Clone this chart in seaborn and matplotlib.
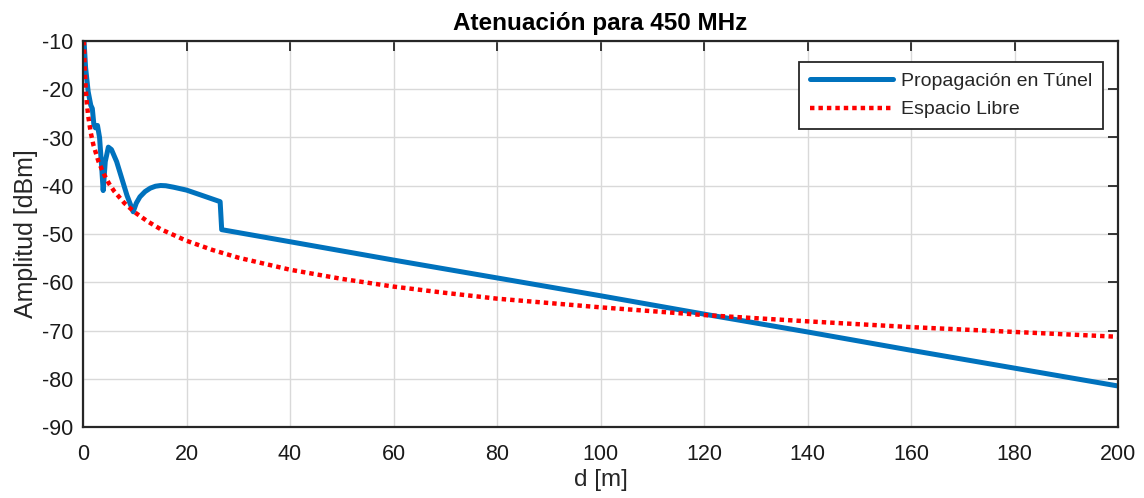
import matplotlib
matplotlib.use("Agg")
import matplotlib.pyplot as plt
import seaborn as sns
import pandas as pd

# Propagación en Túnel
tunnel_d = [0.2, 0.5, 1.0, 1.5, 1.8, 2.1, 2.4, 2.8, 3.2, 3.6, 3.9, 4.3, 4.9, 5.5, 6.5,
            7.5, 8.5, 9.7, 10.3, 11.0, 12.0, 13.0, 14.0, 15.0, 16.0, 17.5, 20.0, 23.0,
            26.5, 26.8, 40.0, 60.0, 80.0, 100.0, 120.0, 140.0, 160.0, 180.0, 200.0]
tunnel_db = [-10.0, -15.5, -20.5, -23.3, -24.0, -27.3, -28.0, -27.5, -30.0, -36.0, -41.0,
             -35.0, -32.0, -32.5, -35.0, -38.5, -42.0, -45.4, -43.6, -42.3, -41.2, -40.5,
             -40.1, -39.95, -40.0, -40.3, -40.9, -42.0, -43.3, -49.1, -51.6, -55.4, -59.1,
             -62.8, -66.6, -70.3, -74.1, -77.8, -81.5]

# Espacio Libre
free_d = [0.17, 0.3, 0.5, 0.75, 1, 1.5, 2, 3, 4, 5, 6, 8, 10, 12.5, 15, 20, 25, 30,
          40, 50, 60, 70, 80, 100, 120, 140, 160, 180, 200]
free_db = [-10.0, -15.0, -19.5, -23.0, -25.5, -29.0, -31.5, -35.0, -37.5, -39.5, -41.1,
           -43.6, -45.5, -47.4, -49.0, -51.4, -53.3, -54.9, -57.4, -59.3, -60.9, -62.2,
           -63.4, -65.2, -66.8, -68.1, -69.3, -70.3, -71.3]

x_ticks = [0, 20, 40, 60, 80, 100, 120, 140, 160, 180, 200]
y_ticks = [-90, -80, -70, -60, -50, -40, -30, -20, -10]

sns.set_theme(style="white")
plt.rcParams['font.family'] = ['Liberation Sans', 'DejaVu Sans']

df_t = pd.DataFrame({"d": tunnel_d, "A": tunnel_db})
df_f = pd.DataFrame({"d": free_d, "A": free_db})

fig = plt.figure(figsize=(11.44, 4.98), dpi=100)
ax = fig.add_axes([83/1144, 1-427/498, (1118-83)/1144, (427-41)/498])

sns.lineplot(data=df_t, x="d", y="A", ax=ax, sort=False, estimator=None,
             color="#0072BD", linewidth=3.6, label="Propagación en Túnel")
sns.lineplot(data=df_f, x="d", y="A", ax=ax, sort=False, estimator=None,
             color="#FF0000", linewidth=3.2, linestyle=(0, (1, 0.9)), label="Espacio Libre")

ax.set_xlim(0, 200)
ax.set_ylim(-90, -10)
ax.set_xticks(x_ticks)
ax.set_yticks(y_ticks)
ax.set_xticklabels([str(v) for v in x_ticks])
ax.set_yticklabels([str(v) for v in y_ticks])

ax.grid(True, color="#d9d9d9", linewidth=1.0)
ax.set_axisbelow(True)
for s in ax.spines.values():
    s.set_color("#262626")
    s.set_linewidth(1.6)
    s.set_visible(True)

ax.tick_params(axis="both", direction="in", length=7, width=1.3, color="#262626",
               labelsize=15.5, labelcolor="#1a1a1a", top=True, right=True)
ax.tick_params(axis="x", pad=12)
ax.tick_params(axis="y", pad=7)

ax.set_xlabel("d [m]", fontsize=17.5, color="#262626", labelpad=3)
ax.set_ylabel("Amplitud [dBm]", fontsize=18, color="#262626", labelpad=3)
ax.set_title("Atenuación para 450 MHz", fontsize=17.5, fontweight="bold", color="black", pad=8)

leg = ax.legend(loc="upper right", bbox_to_anchor=(0.9855, 0.946), fontsize=14,
                frameon=True, fancybox=False, framealpha=1, edgecolor="#262626",
                handlelength=4.3, borderpad=0.55, labelspacing=0.55, handletextpad=0.4,
                borderaxespad=0.0)
leg.get_frame().set_linewidth(1.3)

fig.savefig("out.png", dpi=100)
